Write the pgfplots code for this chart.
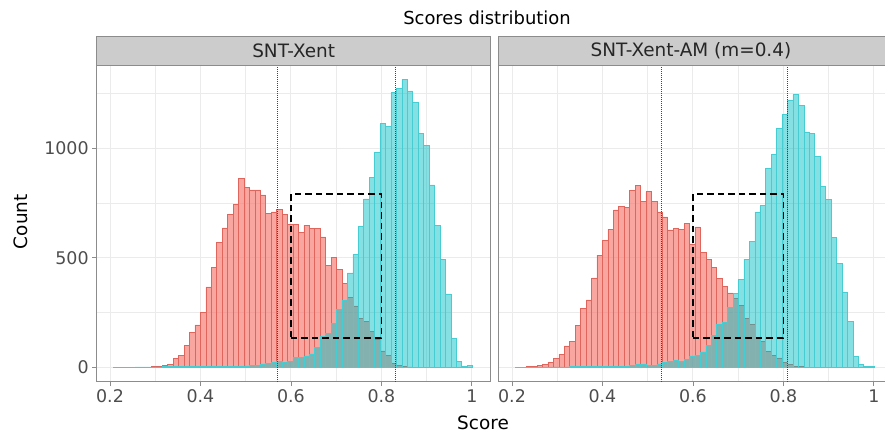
\documentclass[border=0pt]{standalone}
\usepackage{pgfplots}
\pgfplotsset{compat=1.18}
\usepackage{pgfplotstable}
\usepackage{fontspec}
\setmainfont{DejaVu Sans}
\definecolor{redc}{HTML}{F8766D}
\definecolor{redline}{HTML}{E0655D}
\definecolor{cyanc}{HTML}{00BFC4}
\definecolor{cyanline}{HTML}{45CDD1}
\definecolor{framegray}{HTML}{8C8C8C}
\definecolor{gridgray}{HTML}{EBEBEB}
\definecolor{stripgray}{HTML}{CCCCCC}
\definecolor{labgray}{HTML}{4D4D4D}
\definecolor{vlgray}{HTML}{444444}

\pgfplotstableread{
x r1 c1 r2 c2
0.2073 0 1 0 1
0.2193 0 1 1 1
0.2314 0 1 3 1
0.2434 0 1 6 1
0.2554 0 2 9 1
0.2675 0 2 15 2
0.2795 0 2 24 2
0.2916 3 2 42 2
0.3036 6 2 59 2
0.3156 9 3 98 2
0.3277 15 3 118 3
0.3397 42 3 190 3
0.3517 55 3 270 3
0.3638 100 3 308 3
0.3758 160 4 408 4
0.3879 194 4 512 4
0.3999 252 4 580 4
0.4119 367 4 630 5
0.4240 457 5 718 5
0.4360 569 5 733 6
0.4480 636 5 730 6
0.4601 696 5 808 8
0.4721 742 6 831 14
0.4842 862 6 758 14
0.4962 821 7 801 10
0.5082 809 9 758 10
0.5203 809 11 709 16
0.5323 786 16 686 23
0.5443 703 20 627 26
0.5564 709 23 635 33
0.5684 720 29 629 29
0.5804 696 22 658 38
0.5925 650 29 563 53
0.6045 650 45 640 56
0.6166 615 47 525 71
0.6286 648 53 494 102
0.6406 633 62 456 147
0.6527 633 90 405 197
0.6647 595 140 368 205
0.6767 466 155 340 272
0.6888 503 200 314 337
0.7008 446 265 283 402
0.7129 382 305 223 494
0.7249 320 431 196 574
0.7369 280 515 132 709
0.7490 225 641 117 739
0.7610 210 768 74 908
0.7730 165 867 56 969
0.7851 130 979 44 1089
0.7971 75 1112 23 1154
0.8092 55 1099 14 1215
0.8212 20 1252 6 1243
0.8332 8 1272 3 1195
0.8453 4 1312 0 1073
0.8573 2 1260 0 1066
0.8693 0 1206 0 962
0.8814 0 1066 0 826
0.8934 0 1012 0 765
0.9054 0 832 0 592
0.9175 0 648 0 474
0.9295 0 492 0 341
0.9416 0 335 0 211
0.9536 0 133 0 52
0.9656 0 26 0 15
0.9777 0 6 0 3
0.9897 0 9 0 6
1.0017 0 0 0 0
}\hist

\pgfplotsset{panel/.style={
  scale only axis, width=394bp, height=316.7bp,
  xmin=0.1706, xmax=1.0417, ymin=-65, ymax=1378,
  axis line style={draw=framegray, line width=0.8bp},
  xtick={0.2,0.4,0.6,0.8,1}, ytick={0,500,1000},
  minor xtick={0.3,0.5,0.7,0.9}, minor ytick={250,750,1250},
  grid=both,
  major grid style={gridgray, line width=0.9bp},
  minor grid style={gridgray, line width=0.45bp},
  tick align=outside, major tick length=4.5bp, minor tick length=0pt,
  tick style={framegray, line width=0.8bp},
  xtick pos=left, ytick pos=left,
  ticklabel style={font=\fontsize{17.5}{20}\selectfont, text=labgray},
  /pgf/number format/assume math mode=true,
  /pgf/number format/1000 sep={},
  redbar/.style={ybar interval, fill=redc, fill opacity=0.65, draw=redline, line width=0.55bp},
  cyanbar/.style={ybar interval, fill=cyanc, fill opacity=0.48, draw=cyanline, line width=0.55bp},
  vline/.style={vlgray, line width=0.75bp, dash pattern=on 1bp off 1bp},
  boxline/.style={black, line width=1.7bp, dash pattern=on 6.5bp off 4bp},
}}

\begin{document}
\begin{tikzpicture}
\useasboundingbox (0bp,0bp) rectangle (885bp,432bp);
% panel 1
\begin{axis}[panel, at={(96.7bp,50.3bp)}, anchor=south west]
\addplot[redbar] table[x=x,y=r1]{\hist};
\addplot[cyanbar] table[x=x,y=c1]{\hist};
\addplot[vline] coordinates {(0.57,-65) (0.57,1378)};
\addplot[vline] coordinates {(0.83,-65) (0.83,1378)};
\addplot[boxline] coordinates {(0.6,133) (0.8,133) (0.8,790) (0.6,790) (0.6,133)};
\end{axis}
% panel 2
\begin{axis}[panel, at={(498.7bp,50.3bp)}, anchor=south west, yticklabels={}, ytick style={draw=none}]
\addplot[redbar] table[x=x,y=r2]{\hist};
\addplot[cyanbar] table[x=x,y=c2]{\hist};
\addplot[vline] coordinates {(0.531,-65) (0.531,1378)};
\addplot[vline] coordinates {(0.809,-65) (0.809,1378)};
\addplot[boxline] coordinates {(0.6,133) (0.8,133) (0.8,790) (0.6,790) (0.6,133)};
\end{axis}
% strips
\draw[fill=stripgray, draw=framegray, line width=0.8bp] (96.7bp,367bp) rectangle (490.7bp,395.3bp);
\draw[fill=stripgray, draw=framegray, line width=0.8bp] (498.7bp,367bp) rectangle (894bp,395.3bp);
\node[font=\fontsize{18.5}{20}\selectfont, text=black!85] at (293.7bp,381.2bp) {SNT-Xent};
\node[font=\fontsize{18.5}{20}\selectfont, text=black!85] at (691bp,381.2bp) {SNT-Xent-AM (m=0.4)};
% titles
\node[font=\fontsize{18}{20}\selectfont] at (487bp,414bp) {Scores distribution};
\node[font=\fontsize{18.5}{20}\selectfont] at (483bp,9.5bp) {Score};
\node[font=\fontsize{18.5}{20}\selectfont, rotate=90] at (20.5bp,210.3bp) {Count};
\end{tikzpicture}
\end{document}
